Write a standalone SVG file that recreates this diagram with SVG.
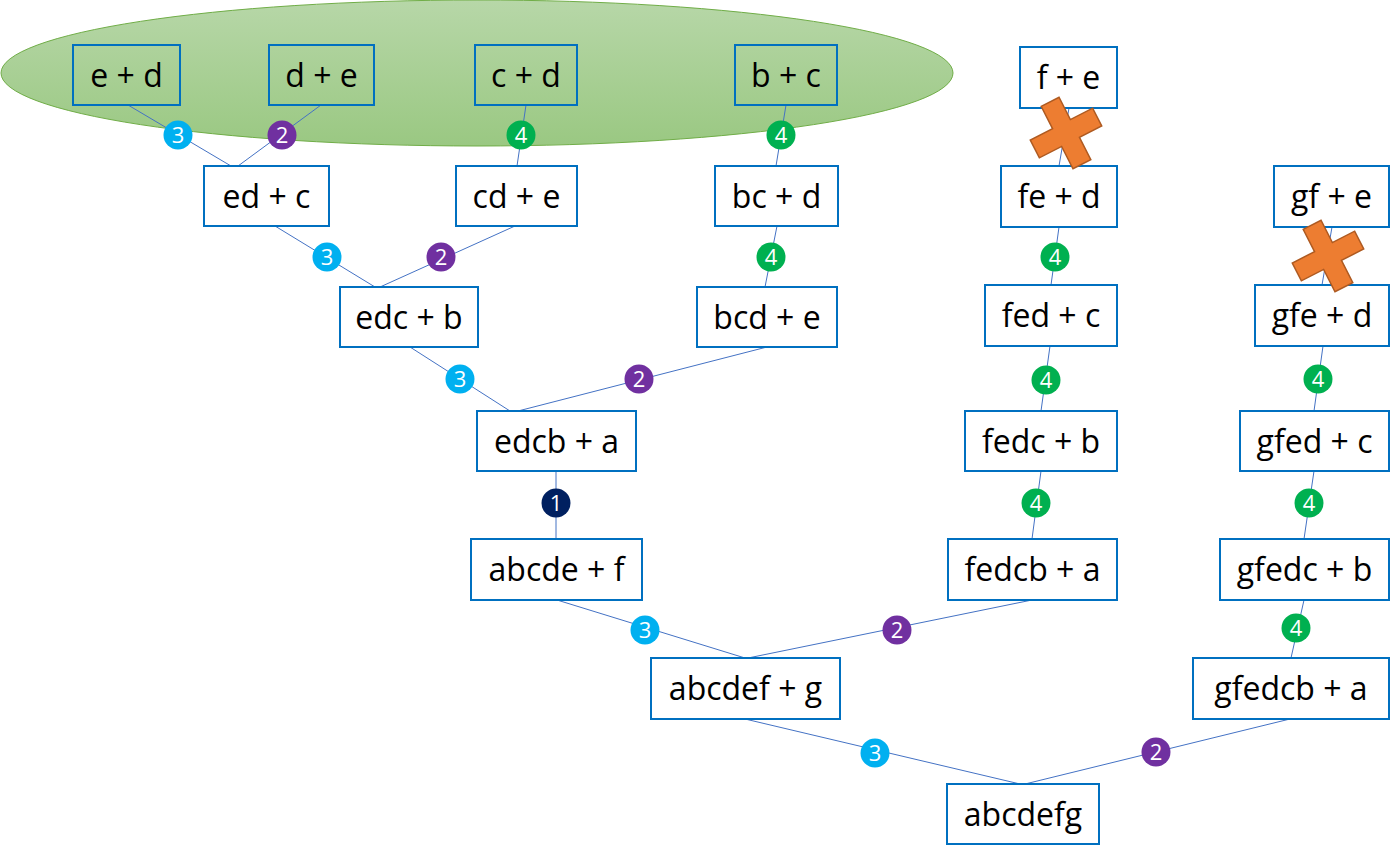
<svg xmlns="http://www.w3.org/2000/svg" width="1397" height="860" viewBox="0 0 1397 860">
<defs>
<linearGradient id="gr" x1="0" y1="0" x2="0" y2="1">
<stop offset="0" stop-color="#b7d7a8"/>
<stop offset="1" stop-color="#9ac882"/>
</linearGradient>
<g id="cross">
<polygon points="-10,-35 10,-35 10,-10 35,-10 35,10 10,10 10,35 -10,35 -10,10 -35,10 -35,-10 -10,-10"/>
</g>
</defs>
<style>
.box{fill:#fff;stroke:#0070c0;stroke-width:2}
.tbox{fill:none;stroke:#0070c0;stroke-width:2}
.t{font-family:"Open Sans","Liberation Sans",sans-serif;font-size:32px;fill:#000;text-anchor:middle}
.c line{stroke:#4472c4;stroke-width:1}
.b text{font-family:"Open Sans","Liberation Sans",sans-serif;font-size:22px;fill:#fff;text-anchor:middle}
.b3{fill:#00b0f0}.b2{fill:#7030a0}.b4{fill:#00b050}.b1{fill:#002060}
.x{fill:#ed7d31;stroke:#ae5a21;stroke-width:1.5}
</style>
<rect width="1397" height="860" fill="#fff"/>
<ellipse id="group" cx="477" cy="73" rx="476" ry="73" fill="url(#gr)" stroke="#70ad47" stroke-width="1"/>
<g id="connectors" class="c">
<line x1="128" y1="105" x2="231" y2="166"/>
<line x1="321" y1="105" x2="238" y2="166"/>
<line x1="526" y1="105" x2="517" y2="166"/>
<line x1="786" y1="105" x2="776" y2="166"/>
<line x1="275" y1="226" x2="375" y2="287"/>
<line x1="515" y1="226" x2="380" y2="287"/>
<line x1="777" y1="226" x2="765" y2="287"/>
<line x1="1069" y1="108" x2="1059" y2="166"/>
<line x1="1059" y1="227" x2="1051" y2="285"/>
<line x1="1332" y1="227" x2="1322" y2="285"/>
<line x1="410" y1="347" x2="510" y2="411"/>
<line x1="767" y1="347" x2="518" y2="411"/>
<line x1="556" y1="471" x2="556" y2="539"/>
<line x1="1050" y1="346" x2="1041" y2="411"/>
<line x1="1323" y1="346" x2="1314" y2="411"/>
<line x1="1041" y1="471" x2="1032" y2="539"/>
<line x1="1314" y1="471" x2="1304" y2="539"/>
<line x1="557" y1="600" x2="745" y2="658"/>
<line x1="1032" y1="600" x2="748" y2="658"/>
<line x1="1304" y1="600" x2="1291" y2="658"/>
<line x1="745" y1="719" x2="1020" y2="784"/>
<line x1="1290" y1="719" x2="1025" y2="784"/>
</g>
<g id="n-ed"><rect class="tbox" x="73" y="45" width="107" height="60"/><text class="t" x="126.5" y="87">e + d</text></g>
<g id="n-de"><rect class="tbox" x="269" y="45" width="105" height="60"/><text class="t" x="321.5" y="87">d + e</text></g>
<g id="n-cd"><rect class="tbox" x="475" y="45" width="102" height="60"/><text class="t" x="526" y="87">c + d</text></g>
<g id="n-bc"><rect class="tbox" x="735" y="45" width="102" height="60"/><text class="t" x="786" y="87">b + c</text></g>
<g id="n-fe"><rect class="box" x="1020" y="47" width="97" height="61"/><text class="t" x="1068.5" y="89">f + e</text></g>
<g id="n-edc"><rect class="box" x="204" y="166" width="125" height="60"/><text class="t" x="266.5" y="208">ed + c</text></g>
<g id="n-cde"><rect class="box" x="456" y="166" width="121" height="60"/><text class="t" x="516.5" y="208">cd + e</text></g>
<g id="n-bcd"><rect class="box" x="715" y="166" width="123" height="60"/><text class="t" x="776.5" y="208">bc + d</text></g>
<g id="n-fed"><rect class="box" x="1001" y="166" width="116" height="61"/><text class="t" x="1059" y="208">fe + d</text></g>
<g id="n-gfe"><rect class="box" x="1274" y="166" width="115" height="61"/><text class="t" x="1331.5" y="208">gf + e</text></g>
<g id="n-edcb"><rect class="box" x="340" y="287" width="138" height="60"/><text class="t" x="409" y="329">edc + b</text></g>
<g id="n-bcde"><rect class="box" x="697" y="287" width="140" height="60"/><text class="t" x="767" y="329">bcd + e</text></g>
<g id="n-fedc"><rect class="box" x="985" y="285" width="132" height="61"/><text class="t" x="1051" y="327">fed + c</text></g>
<g id="n-gfed"><rect class="box" x="1255" y="285" width="134" height="61"/><text class="t" x="1322" y="327">gfe + d</text></g>
<g id="n-edcba"><rect class="box" x="477" y="411" width="159" height="60"/><text class="t" x="556.5" y="453">edcb + a</text></g>
<g id="n-fedcb"><rect class="box" x="965" y="411" width="152" height="60"/><text class="t" x="1041" y="453">fedc + b</text></g>
<g id="n-gfedc"><rect class="box" x="1240" y="411" width="149" height="60"/><text class="t" x="1314.5" y="453">gfed + c</text></g>
<g id="n-abcdef"><rect class="box" x="471" y="539" width="171" height="61"/><text class="t" x="556.5" y="581">abcde + f</text></g>
<g id="n-fedcba"><rect class="box" x="948" y="539" width="169" height="61"/><text class="t" x="1032.5" y="581">fedcb + a</text></g>
<g id="n-gfedcb"><rect class="box" x="1220" y="539" width="169" height="61"/><text class="t" x="1304.5" y="581">gfedc + b</text></g>
<g id="n-abcdefg1"><rect class="box" x="651" y="658" width="189" height="61"/><text class="t" x="745.5" y="700">abcdef + g</text></g>
<g id="n-gfedcba"><rect class="box" x="1193" y="658" width="196" height="61"/><text class="t" x="1291" y="700">gfedcb + a</text></g>
<g id="n-abcdefg"><rect class="box" x="947" y="784" width="152" height="60"/><text class="t" x="1023" y="826">abcdefg</text></g>
<g id="badges" class="b">
<circle class="b3" cx="178" cy="135" r="14.5"/><text x="178" y="143">3</text>
<circle class="b2" cx="282" cy="135" r="14.5"/><text x="282" y="143">2</text>
<circle class="b4" cx="521" cy="135" r="14.5"/><text x="521" y="143">4</text>
<circle class="b4" cx="781" cy="135" r="14.5"/><text x="781" y="143">4</text>
<circle class="b3" cx="327" cy="257" r="14.5"/><text x="327" y="265">3</text>
<circle class="b2" cx="441" cy="257" r="14.5"/><text x="441" y="265">2</text>
<circle class="b4" cx="771" cy="257" r="14.5"/><text x="771" y="265">4</text>
<circle class="b4" cx="1055" cy="257" r="14.5"/><text x="1055" y="265">4</text>
<circle class="b3" cx="460" cy="379" r="14.5"/><text x="460" y="387">3</text>
<circle class="b2" cx="639" cy="379" r="14.5"/><text x="639" y="387">2</text>
<circle class="b4" cx="1046" cy="380" r="14.5"/><text x="1046" y="388">4</text>
<circle class="b4" cx="1318" cy="379" r="14.5"/><text x="1318" y="387">4</text>
<circle class="b1" cx="556" cy="503" r="14.5"/><text x="556" y="511">1</text>
<circle class="b4" cx="1036" cy="503" r="14.5"/><text x="1036" y="511">4</text>
<circle class="b4" cx="1309" cy="503" r="14.5"/><text x="1309" y="511">4</text>
<circle class="b3" cx="645" cy="630" r="14.5"/><text x="645" y="638">3</text>
<circle class="b2" cx="897" cy="630" r="14.5"/><text x="897" y="638">2</text>
<circle class="b4" cx="1296" cy="628" r="14.5"/><text x="1296" y="636">4</text>
<circle class="b3" cx="875" cy="753" r="14.5"/><text x="875" y="761">3</text>
<circle class="b2" cx="1156" cy="752" r="14.5"/><text x="1156" y="760">2</text>
</g>
<g id="x1" class="x" transform="translate(1066,133) rotate(-27)"><use href="#cross"/></g>
<g id="x2" class="x" transform="translate(1328,256) rotate(-27)"><use href="#cross"/></g>
</svg>
